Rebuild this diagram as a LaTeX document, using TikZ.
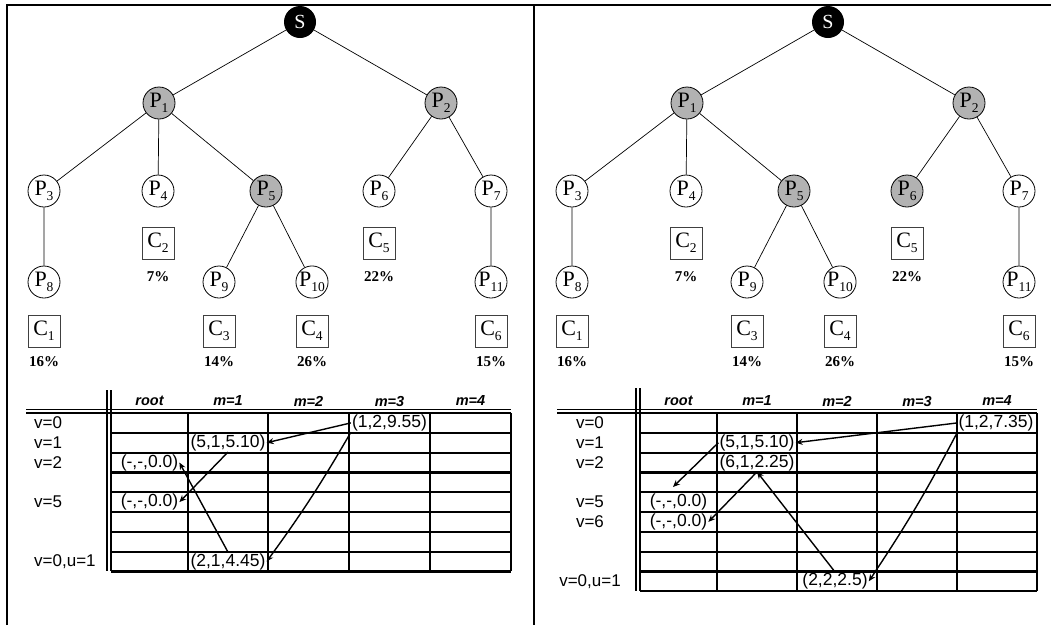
\documentclass[tikz,border=0pt]{standalone}
\usepackage{fontspec}
\setmainfont{Liberation Serif}
\setsansfont{Liberation Sans}
\usetikzlibrary{arrows.meta}
\newcommand\Pl[1]{P\raisebox{-0.22em}{\fontsize{13.5}{13.5}\selectfont #1}}
\newcommand\Cl[1]{C\raisebox{-0.22em}{\fontsize{13.5}{13.5}\selectfont #1}}
\tikzset{
 pnode/.style={circle,draw,line width=0.8pt,minimum size=32pt,inner sep=0pt,font=\fontsize{22}{22}\selectfont},
 pgray/.style={pnode,fill=gray!60},
 pwhite/.style={pnode,fill=white},
 snode/.style={circle,fill=black,minimum size=32pt,inner sep=0pt,text=white,font=\fontsize{20}{20}\selectfont},
 cbox/.style={draw=black!75,line width=0.9pt,minimum size=32pt,inner sep=0pt,font=\fontsize{22}{22}\selectfont},
 pct/.style={font=\bfseries\fontsize{15}{15}\selectfont},
 tedge/.style={line width=0.7pt},
 frame/.style={line width=2.3pt},
 tline/.style={line width=2.2pt},
 dline/.style={line width=1.5pt},
 cell/.style={font=\sffamily\fontsize{17.5}{17.5}\selectfont,inner sep=1pt},
 rlab/.style={font=\sffamily\fontsize{17}{17}\selectfont,inner sep=0pt},
 hdr/.style={font=\sffamily\bfseries\itshape\fontsize{14.5}{14.5}\selectfont},
 arr/.style={line width=1.4pt,-{Stealth[length=7pt,width=6pt]}},
}
\newcommand\ptree[3]{%
 \begin{scope}[xshift=#2pt]
 \node[snode] (#1S) at (300,22) {S};
 \node[pgray] (#1P1) at (159,103) {\Pl{1}};
 \node[pgray] (#1P2) at (441,103) {\Pl{2}};
 \node[pwhite] (#1P3) at (44,191) {\Pl{3}};
 \node[pwhite] (#1P4) at (158,191) {\Pl{4}};
 \node[pgray] (#1P5) at (266,191) {\Pl{5}};
 \node[#3] (#1P6) at (379,191) {\Pl{6}};
 \node[pwhite] (#1P7) at (491,191) {\Pl{7}};
 \node[pwhite] (#1P8) at (44,282) {\Pl{8}};
 \node[pwhite] (#1P9) at (219,282) {\Pl{9}};
 \node[pwhite] (#1P10) at (312,282) {\Pl{10}};
 \node[pwhite] (#1P11) at (491,282) {\Pl{11}};
 \node[cbox] (#1C2) at (158,243) {\Cl{2}};
 \node[cbox] (#1C5) at (379,243) {\Cl{5}};
 \node[pct] (#1k2) at (158,277) {7\%};
 \node[pct] (#1k5) at (379,277) {22\%};
 \node[cbox] (#1C1) at (44,331) {\Cl{1}};
 \node[cbox] (#1C3) at (219,331) {\Cl{3}};
 \node[cbox] (#1C4) at (312,331) {\Cl{4}};
 \node[cbox] (#1C6) at (491,331) {\Cl{6}};
 \node[pct] (#1k1) at (44,362) {16\%};
 \node[pct] (#1k3) at (219,362) {14\%};
 \node[pct] (#1k4) at (312,362) {26\%};
 \node[pct] (#1k6) at (491,362) {15\%};
 \draw[tedge] (#1S)--(#1P1) (#1S)--(#1P2)
   (#1P1)--(#1P3) (#1P1)--(#1P4) (#1P1)--(#1P5)
   (#1P2)--(#1P6) (#1P2)--(#1P7)
   (#1P3)--(#1P8) (#1P5)--(#1P9) (#1P5)--(#1P10) (#1P7)--(#1P11);
 \end{scope}}
\begin{document}
\begin{tikzpicture}[x=1pt,y=-1pt]
\useasboundingbox (0,0) rectangle (1051,625);
% frame
\draw[frame] (7,625) -- (7,5) -- (1051,5);
\draw[frame] (534,5) -- (534,625);
% trees
\ptree{L}{0}{pwhite}
\ptree{R}{528}{pgray}
% left table
\draw[dline] (26,409.5) -- (511,409.5);
\draw[dline] (26,413) -- (511,413);
\draw[dline] (107,390) -- (107,571.4);
\draw[dline] (111,390) -- (111,571.4);
\foreach \k in {1,...,8} \draw[tline] (111,{413+19.8*\k}) -- (511,{413+19.8*\k});
\foreach \x in {188,268,349,430,511} \draw[tline] (\x,413) -- (\x,571.4);
\node[hdr] (Lh0) at (149.5,401) {root};
\node[hdr] (Lh1) at (228,401) {m=1};
\node[hdr] (Lh2) at (308.5,401) {m=2};
\node[hdr] (Lh3) at (389.5,401) {m=3};
\node[hdr] (Lh4) at (470.5,401) {m=4};
\node[rlab,anchor=west] (Lv0) at (34,422.9) {v=0};
\node[rlab,anchor=west] (Lv1) at (34,442.7) {v=1};
\node[rlab,anchor=west] (Lv2) at (34,462.5) {v=2};
\node[rlab,anchor=west] (Lv5) at (34,502.1) {v=5};
\node[rlab,anchor=west] (Lvu) at (34,561.5) {v=0,u=1};
\node[cell] (La) at (389.5,422.9) {(1,2,9.55)};
\node[cell] (Lb) at (228,442.7) {(5,1,5.10)};
\node[cell] (Lc) at (149.5,462.5) {(-,-,0.0)};
\node[cell] (Ld) at (149.5,502.1) {(-,-,0.0)};
\node[cell] (Le) at (228,561.5) {(2,1,4.45)};
\draw[arr] (La.west) -- (Lb.east);
\draw[arr] (La.south west) to[bend left=3] (Le.east);
\draw[arr] (Lb.south) -- (Ld.east);
\draw[arr] (Le.north) -- (Lc.east);
% right table
\draw[dline] (557,409.5) -- (1037,409.5);
\draw[dline] (557,413) -- (1037,413);
\draw[dline] (636,388) -- (636,591.2);
\draw[dline] (640,388) -- (640,591.2);
\foreach \k in {1,...,9} \draw[tline] (640,{413+19.8*\k}) -- (1037,{413+19.8*\k});
\foreach \x in {717,797,877,957,1037} \draw[tline] (\x,413) -- (\x,591.2);
\node[hdr] (Rh0) at (678.5,401) {root};
\node[hdr] (Rh1) at (757,401) {m=1};
\node[hdr] (Rh2) at (837,401) {m=2};
\node[hdr] (Rh3) at (917,401) {m=3};
\node[hdr] (Rh4) at (997,401) {m=4};
\node[rlab] (Rv0) at (590,422.9) {v=0};
\node[rlab] (Rv1) at (590,442.7) {v=1};
\node[rlab] (Rv2) at (590,462.5) {v=2};
\node[rlab] (Rv5) at (590,502.1) {v=5};
\node[rlab] (Rv6) at (590,521.9) {v=6};
\node[rlab] (Rvu) at (590,581.3) {v=0,u=1};
\node[cell] (Ra) at (996,422.9) {(1,2,7.35)};
\node[cell] (Rb) at (757,442.7) {(5,1,5.10)};
\node[cell] (Rc) at (757,462.5) {(6,1,2.25)};
\node[cell] (Rd) at (678.5,502.1) {(-,-,0.0)};
\node[cell] (Re) at (678.5,521.9) {(-,-,0.0)};
\node[cell] (Rf) at (835,581.3) {(2,2,2.5)};
\coordinate (Rend) at (673,487);
\draw[arr] (Ra.west) -- (Rb.east);
\draw[arr] (Ra.south west) to[bend left=3] (Rf.east);
\draw[arr] (Rb.west) -- (Rend);
\draw[arr] (Rf.north) -- (Rc.south);
\draw[arr] (Rc.south) -- (Re.east);
\end{tikzpicture}
\end{document}
